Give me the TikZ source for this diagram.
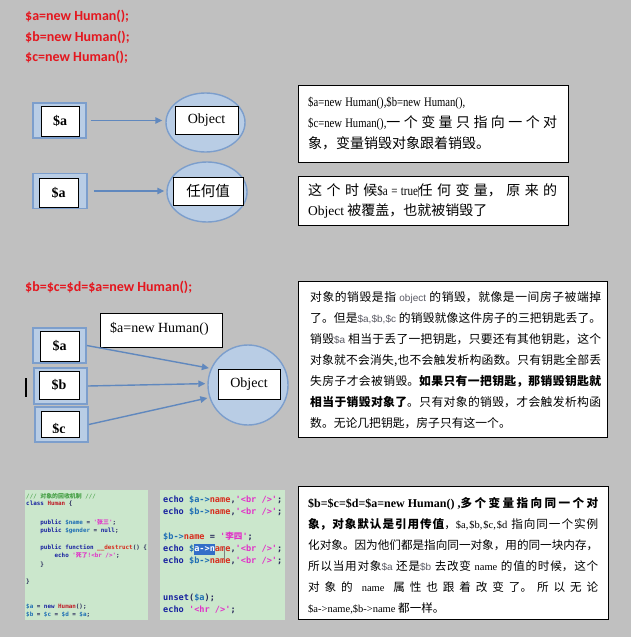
\documentclass[tikz,border=0pt]{standalone}
\usepackage{fontspec}
\setmainfont{Liberation Serif}
\setsansfont{Liberation Sans}
\setmonofont{DejaVu Sans Mono}
\newfontfamily\zhfont{Noto Sans CJK SC}
\newfontfamily\serifc[FakeStretch=0.82]{Liberation Serif}
\newfontfamily\redfont{Carlito}
\usetikzlibrary{arrows.meta,shapes.geometric}
\XeTeXlinebreaklocale "zh"
\XeTeXlinebreakskip=0pt plus 1pt minus 0.3pt
\tolerance=10000
\hbadness=10000
\definecolor{bg}{RGB}{192,192,192}
\definecolor{redtxt}{RGB}{228,22,30}
\definecolor{boxfill}{RGB}{185,205,229}
\definecolor{boxedge}{RGB}{124,158,204}
\definecolor{arrowc}{RGB}{96,136,190}
\definecolor{codebg}{RGB}{203,231,204}
\definecolor{ckw}{RGB}{25,35,160}
\definecolor{cvar}{RGB}{30,110,180}
\definecolor{cprop}{RGB}{215,45,30}
\definecolor{cstr}{RGB}{225,50,200}
\definecolor{ccm}{RGB}{70,160,70}
\definecolor{ccls}{RGB}{190,30,40}
\definecolor{cpun}{RGB}{40,40,90}
\definecolor{selc}{RGB}{50,110,200}
\definecolor{graytxt}{RGB}{90,90,100}
\newcommand\zh[1]{{\zhfont #1}}
\newcommand\fsz[2]{\fontsize{#1}{#2}\selectfont}
\newcommand\stt{\rule{0pt}{15pt}}
\newcommand\fsp{\hspace{0.25em}}
\newcommand\kw[1]{\textcolor{ckw}{#1}}
\newcommand\vr[1]{\textcolor{cvar}{#1}}
\newcommand\pr[1]{\textcolor{cprop}{#1}}
\newcommand\sr[1]{\textcolor{cstr}{#1}}
\newcommand\cl[1]{\textcolor{ccls}{#1}}
\newcommand\gs[1]{{\sffamily\fontsize{10}{10}\selectfont\textcolor{graytxt}{#1}}}
\newcommand\sm[1]{{\fontsize{10.5}{12}\selectfont #1}}
\begin{document}
\begin{tikzpicture}[x=1pt,y=-1pt,
  redt/.style={anchor=base west, inner sep=0, font=\redfont\bfseries\fsz{14}{16}, text=redtxt},
  outerb/.style={draw=boxedge, line width=1.6pt, fill=boxfill, inner sep=0},
  innerb/.style={draw=black, line width=0.7pt, fill=white, inner sep=0, font=\bfseries\fsz{14}{16}},
  blob/.style={draw=boxedge, line width=1.4pt, fill=boxfill, inner sep=0},
  wbox/.style={draw=black, line width=0.7pt, fill=white, inner sep=0, font=\fsz{14}{16}},
  tbox/.style={draw=black, line width=0.9pt, fill=white, inner sep=0, anchor=north west},
  ttext/.style={anchor=north west, inner sep=0, align=justify},
  arr/.style={draw=arrowc, line width=1.4pt, -{Triangle[length=7pt,width=6.5pt]}},
  codeL/.style={anchor=mid west, inner sep=0, font=\ttfamily\bfseries\fsz{5.9}{8}, text=cpun},
  codeR/.style={anchor=mid west, inner sep=0, font=\ttfamily\bfseries\fsz{8.6}{12}, text=cpun}]
\fill[bg] (0,0) rectangle (631,637);
\useasboundingbox (0,0) rectangle (631,637);

% red titles
\node[redt] (t1) at (25,20.5) {\$a=new Human();};
\node[redt] (t2) at (25,41) {\$b=new Human();};
\node[redt] (t3) at (25,61.5) {\$c=new Human();};
\node[redt] (t4) at (25,291) {\$b=\$c=\$d=\$a=new Human();};

% row 1
\node[outerb, minimum width=53pt, minimum height=35pt] (o1) at (59.5,120.5) {};
\node[innerb, minimum width=38pt, minimum height=30pt] (i1) at (60,121) {\$a};
\node[blob, ellipse, minimum width=79pt, minimum height=59pt] (e1) at (205.5,122.5) {};
\node[wbox, minimum width=63pt, minimum height=28pt] (w1) at (206.5,120) {Object};
\draw[arr, shorten <=4pt, shorten >=3pt] (o1.east) -- (o1.east -| e1.west);

% row 2
\node[outerb, minimum width=54pt, minimum height=35pt] (o2) at (60,191) {};
\node[innerb, minimum width=39pt, minimum height=29pt] (i2) at (58.5,192.5) {\$a};
\node[blob, ellipse, minimum width=80pt, minimum height=60pt] (e2) at (207,192) {};
\node[wbox, minimum width=70pt, minimum height=28pt, font=\zhfont\fsz{14.5}{16}] (w2) at (208,191) {任何值};
\draw[arr, shorten <=6pt, shorten >=2pt] (o2.east) -- (o2.east -| e2.west);

% text box 1
\node[tbox, minimum width=270pt, minimum height=77pt] (b1) at (298,85) {};
\node[ttext, text width=249pt, font=\zhfont\fsz{14}{21}] (b1t) at (308,91.3) {%
\noindent\stt{\serifc\fsz{13}{21}\$a=new\fsp Human(),\$b=new\fsp Human(),}\newline
\stt{\serifc\fsz{13}{21}\$c=new\fsp Human(),}一个变量只指向一个对\linebreak
\stt 象，变量销毁对象跟着销毁。};

% text box 2
\node[tbox, minimum width=270pt, minimum height=49pt] (b2) at (298,176) {};
\node[ttext, text width=249pt, font=\zhfont\fsz{14}{20}] (b2t) at (308,180.3) {%
\noindent\stt 这个时候{\serifc\fsz{13.5}{20}\$a\fsp=\fsp true}\textcolor{gray}{\rule[-1pt]{0.6pt}{11pt}}任何变量，原来的\linebreak
\stt{\rmfamily\fsz{13.5}{20}Object} 被覆盖，也就被销毁了};

% row 3
\node[wbox, minimum width=122pt, minimum height=34pt] (h3) at (161,330) {};
\node[anchor=west, inner sep=0, font=\fsz{14}{16}] (h3t) at (110,329) {\$a=new Human()};

\node[outerb, minimum width=53pt, minimum height=35pt] (a3o) at (59.5,345.5) {};
\node[innerb, minimum width=39pt, minimum height=30pt] (a3i) at (59.5,346) {\$a};
\node[outerb, minimum width=53pt, minimum height=36pt] (b3o) at (60.5,386) {};
\node[innerb, minimum width=40pt, minimum height=28pt] (b3i) at (59,385) {\$b};
\node[outerb, minimum width=53pt, minimum height=35pt] (c3o) at (61.5,424.5) {};
\node[innerb, minimum width=38pt, minimum height=26pt] (c3i) at (60,424) {};
\begin{scope}
\clip (41.5,412) rectangle (78.5,432);
\node[anchor=base, inner sep=0, font=\bfseries\fsz{14}{16}] (c3t) at (59,433) {\$c};
\end{scope}
\draw[line width=1.4pt] (26,378) -- (26,397);

\node[blob, circle, minimum size=80pt] (cc) at (248,385) {};
\node[wbox, minimum width=62pt, minimum height=30pt] (w3) at (249,384) {Object};
\draw[arr, shorten >=2pt] (a3o.east) -- (cc.156);
\draw[arr, shorten >=2pt] (b3o.east) -- (cc.178);
\draw[arr, shorten >=2pt] (c3o.east) -- (cc.198);

% text box 3
\node[tbox, minimum width=309pt, minimum height=156pt] (b3) at (298,281) {};
\node[ttext, text width=291pt, font=\zhfont\fsz{11.8}{21}] (b3t) at (310,286.5) {%
\noindent\stt 对象的销毁是指 \gs{object} 的销毁，就像是一间房子被端掉\linebreak
\stt 了。但是\gs{\$a,\$b,\$c} 的销毁就像这件房子的三把钥匙丢了。\linebreak
\stt 销毁\gs{\$a} 相当于丢了一把钥匙，只要还有其他钥匙，这个\linebreak
\stt 对象就不会消失,也不会触发析构函数。只有钥匙全部丢\linebreak
\stt 失房子才会被销毁。{\bfseries 如果只有一把钥匙，那销毁钥匙就}\linebreak
\stt{\bfseries 相当于销毁对象了}。只有对象的销毁，才会触发析构函\linebreak
\stt 数。无论几把钥匙，房子只有这一个。};

% code screenshots
\fill[codebg] (25,490) rectangle (148,620);
\fill[codebg] (160,490) rectangle (285,620);
\node[codeL] (l0) at (26,496) {\textcolor{ccm}{{\mdseries///} \zh{对象的回收机制} {\mdseries///}}};
\node[codeL] (l1) at (26,503) {\kw{class} \cl{Human} \{};
\node[codeL] (l3) at (26,522) {\phantom{xxxx}\kw{public} \vr{\$name} = \sr{'\zh{张三}'};};
\node[codeL] (l4) at (26,530) {\phantom{xxxx}\kw{public} \vr{\$gender} = \kw{null};};
\node[codeL] (l6) at (26,547) {\phantom{xxxx}\kw{public} \kw{function} \pr{\_\_destruct}() \{};
\node[codeL] (l7) at (26,555.5) {\phantom{xxxxxxxx}\kw{echo} \sr{'\zh{死了}!<br />'};};
\node[codeL] (l8) at (26,564) {\phantom{xxxx}\}};
\node[codeL] (l10) at (26,581) {\}};
\node[codeL] (l13) at (26,606) {\vr{\$a} = \kw{new} \cl{Human}();};
\node[codeL] (l14) at (26,614) {\vr{\$b} = \vr{\$c} = \vr{\$d} = \vr{\$a};};

\fill[selc] (194.2,543.5) rectangle (215,554.5);
\node[codeR] (r1) at (163,500) {\kw{echo} \vr{\$a->}\pr{name},\sr{'<br />'};};
\node[codeR] (r2) at (163,512) {\kw{echo} \vr{\$b->}\pr{name},\sr{'<br />'};};
\node[codeR] (r3) at (163,537) {\vr{\$b->}\pr{name} = \sr{'\zh{李四}'};};
\node[codeR] (r4) at (163,549) {\kw{echo} \vr{\$}\textcolor{white}{a->n}\pr{ame},\sr{'<br />'};};
\node[codeR] (r5) at (163,561) {\kw{echo} \vr{\$b->}\pr{name},\sr{'<br />'};};
\node[codeR] (r6) at (163,598) {\kw{unset}(\vr{\$a});};
\node[codeR] (r7) at (163,610) {\kw{echo} \sr{'<hr />'};};
\draw[gray, line width=0.6pt] (224,546) -- (224,559);

% text box 4
\node[tbox, minimum width=310pt, minimum height=133pt] (b4) at (298,486) {};
\node[ttext, text width=290pt, font=\zhfont\fsz{11.6}{21}] (b4t) at (308,492.5) {%
\noindent\stt{\rmfamily\bfseries\fsz{12}{21}\$b=\$c=\$d=\$a=new\fsp Human()\fsp,}{\bfseries 多个变量指向同一个对}\linebreak
\stt{\bfseries 象，对象默认是引用传值}，{\rmfamily\sm{\$a,\$b,\$c,\$d}} 指向同一个实例\linebreak
\stt 化对象。因为他们都是指向同一对象，用的同一块内存，\linebreak
\stt 所以当用对象\gs{\$a} 还是\gs{\$b} 去改变 {\rmfamily\sm{name}} 的值的时候，这个\linebreak
\stt 对象的 {\rmfamily\sm{name}} 属性也跟着改变了。所以无论\linebreak
\stt{\rmfamily\sm{\$a->name,\$b->name}} 都一样。};
\end{tikzpicture}
\end{document}
